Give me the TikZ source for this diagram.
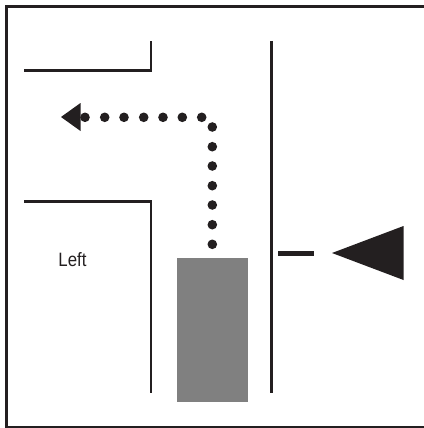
\documentclass[tikz,border=0pt]{standalone}
\usepackage{fontspec}
\setmainfont{Liberation Sans}
\definecolor{ink}{HTML}{231F20}
\definecolor{carfill}{HTML}{808080}
\tikzset{
  wall/.style={draw=ink,line width=1.6pt,line join=miter},
  frame/.style={draw=ink,line width=1.9pt},
  dot/.style={circle,fill=ink,inner sep=0pt,minimum size=7.2pt},
  tip/.style={fill=ink,draw=none}
}
\begin{document}
\begin{tikzpicture}[x=0.75pt,y=-0.75pt]
\useasboundingbox (0,0) rectangle (424,428);
\draw[frame] (6.3,428) -- (6.3,6.7) -- (424,6.7);
\draw[frame] (6.3,427.2) -- (424,427.2);
\draw[wall] (24,70.5) -- (151,70.5) -- (151,41);
\draw[wall] (24,201.5) -- (151,201.5) -- (151,393);
\draw[wall] (271.5,41) -- (271.5,393);
\fill[fill=carfill] (177,258) rectangle (248,402);
\draw[ink,line width=3.6pt] (278,253.5) -- (314,253.5);
\fill[tip] (332,253) -- (403.5,226) -- (403.5,280) -- cycle;
\fill[tip] (61,117) -- (80.5,103) -- (80.5,131) -- cycle;
\foreach \i/\x/\y in {a/85/117.3,b/104.7/117.3,c/124/117.3,d/143.7/117.3,e/163/117.3,f/182.3/117.3,g/201.7/117.3,h/212.3/127,j/212.3/146.7,k/212.3/166,l/212.3/185.7,m/212.3/205,n/212.3/224.7,o/212.3/244.3}
  \node[dot] (\i) at (\x,\y) {};
\node[text=ink,font=\fontsize{14.5}{16}\selectfont,xscale=0.87] (left) at (72.5,259.5) {Left};
\end{tikzpicture}
\end{document}
